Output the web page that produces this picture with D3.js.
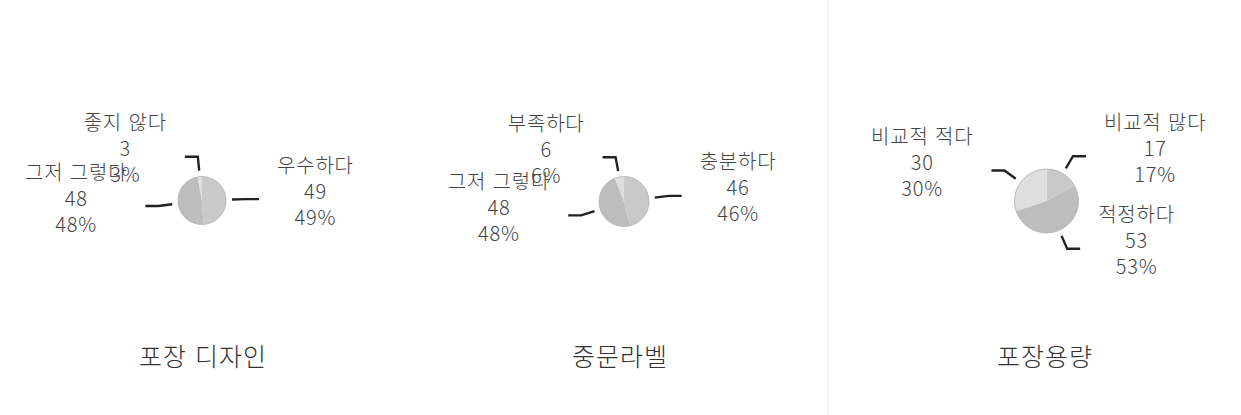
<!DOCTYPE html>
<html lang="ko">
<head>
<meta charset="utf-8">
<script src="https://cdn.jsdelivr.net/npm/d3@7"></script>
<style>
  html, body { margin: 0; padding: 0; background: #fff; }
  svg { display: block; }
  text { font-family: "Noto Sans CJK KR", "Noto Sans", sans-serif; }
</style>
</head>
<body>
<svg id="chart" width="1241" height="415"></svg>
<script>
// Survey results: three pie charts
const chartTitles = ["포장 디자인", "중문라벨", "포장용량"];

const designCategories = ["우수하다", "그저 그렇다", "좋지 않다"];
const designValues = [49, 48, 3];

const labelCategories = ["충분하다", "그저 그렇다", "부족하다"];
const labelValues = [46, 48, 6];

const volumeCategories = ["비교적 많다", "적정하다", "비교적 적다"];
const volumeValues = [17, 53, 30];

const sliceColors = ["#c9c9c9", "#bdbdbd", "#dedede"];

// Panel layout (centre of each pie and its radius)
const panels = [
  { title: chartTitles[0], cats: designCategories, vals: designValues, cx: 202, cy: 200.5, r: 24, titleX: 203 },
  { title: chartTitles[1], cats: labelCategories, vals: labelValues, cx: 624, cy: 201.5, r: 25, titleX: 620 },
  { title: chartTitles[2], cats: volumeCategories, vals: volumeValues, cx: 1046.5, cy: 201, r: 32, titleX: 1045 }
];

const svg = d3.select("#chart");

// faint divider between panels
svg.append("line")
  .attr("x1", 828).attr("x2", 828).attr("y1", 0).attr("y2", 415)
  .attr("stroke", "#f0f0f0").attr("stroke-width", 1.5);

const pie = d3.pie().sort(null).value(d => d.value);
const color = d3.scaleOrdinal().domain([0, 1, 2]).range(sliceColors);

const lineGap = 6, lineLen = 20, lineTail = 13, textGap = 18, lineHeight = 26;

panels.forEach(p => {
  const data = p.cats.map((c, i) => ({ name: c, value: p.vals[i], idx: i }));
  const total = d3.sum(p.vals);
  const arcs = pie(data);
  const arc = d3.arc().innerRadius(0).outerRadius(p.r);

  const g = svg.append("g").attr("transform", `translate(${p.cx},${p.cy})`);

  g.selectAll("path.slice")
    .data(arcs)
    .join("path")
    .attr("class", "slice")
    .attr("d", arc)
    .attr("fill", d => color(d.data.idx));

  g.append("circle")
    .attr("r", p.r)
    .attr("fill", "none")
    .attr("stroke", "#b0b0b0")
    .attr("stroke-width", 0.8);

  arcs.forEach(a => {
    const mid = (a.startAngle + a.endAngle) / 2;
    const dx = Math.sin(mid), dy = -Math.cos(mid);
    const side = dx >= 0 ? 1 : -1;
    const p0 = [dx * (p.r + lineGap), dy * (p.r + lineGap)];
    const p1 = [dx * (p.r + lineLen), dy * (p.r + lineLen)];
    const p2 = [p1[0] + side * lineTail, p1[1]];

    g.append("path")
      .attr("d", d3.line()([p0, p1, p2]))
      .attr("fill", "none")
      .attr("stroke", "#222")
      .attr("stroke-width", 2.4);

    const lines = [a.data.name, String(a.data.value), Math.round(a.data.value / total * 100) + "%"];
    const lg = g.append("g");
    const texts = lg.selectAll("text")
      .data(lines)
      .join("text")
      .attr("text-anchor", "middle")
      .attr("dominant-baseline", "central")
      .attr("font-size", 20)
      .attr("font-weight", 300)
      .attr("letter-spacing", 0.8)
      .attr("fill", "#444")
      .attr("y", (d, i) => (i - 1) * lineHeight)
      .text(d => d);
    const w = d3.max(texts.nodes(), n => n.getComputedTextLength());
    const cx = p2[0] + side * (textGap + w / 2);
    lg.attr("transform", `translate(${cx},${p2[1] - 9})`);
  });

  svg.append("text")
    .attr("x", p.titleX)
    .attr("y", 355)
    .attr("text-anchor", "middle")
    .attr("dominant-baseline", "central")
    .attr("font-size", 25)
    .attr("font-weight", 300)
    .attr("letter-spacing", 1)
    .attr("fill", "#333")
    .text(p.title);
});
</script>
</body>
</html>
